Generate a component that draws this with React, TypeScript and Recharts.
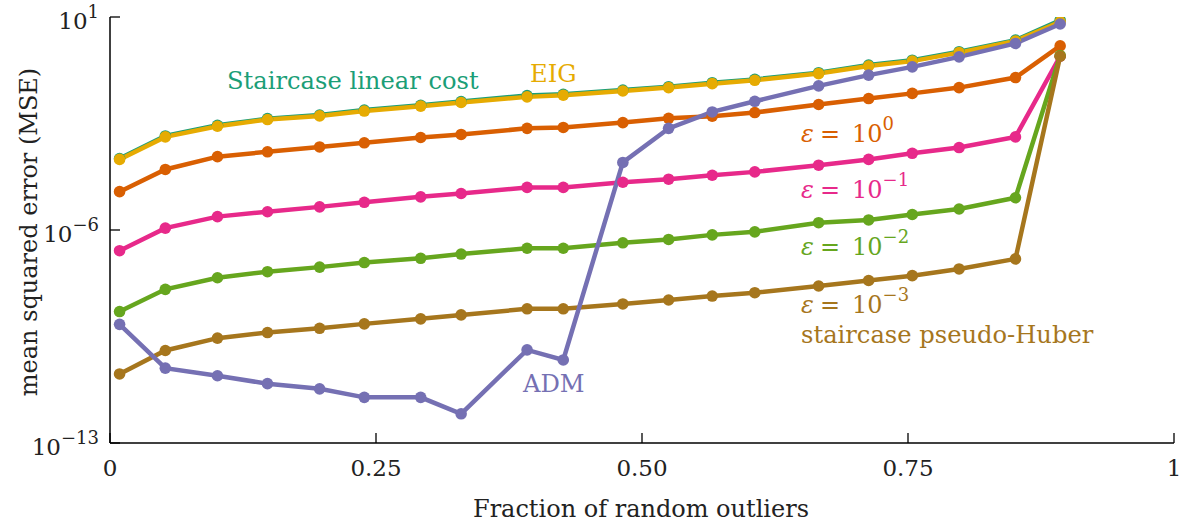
import { LineChart, Line, XAxis, YAxis } from 'recharts';

// fraction of random outliers (x)
const fraction = [0.009, 0.052, 0.101, 0.148, 0.197, 0.239, 0.292, 0.33, 0.392, 0.426, 0.482, 0.525, 0.566, 0.606, 0.666, 0.713, 0.754, 0.798, 0.851, 0.893];

// log10(MSE), one array per method
const staircaseLinearLog = [-3.65, -2.91, -2.56, -2.34, -2.22, -2.06, -1.9, -1.78, -1.58, -1.54, -1.4, -1.29, -1.16, -1.05, -0.83, -0.58, -0.42, -0.14, 0.24, 0.89];
const eigLog = [-3.68, -2.94, -2.59, -2.37, -2.25, -2.09, -1.93, -1.81, -1.625, -1.57, -1.43, -1.32, -1.19, -1.08, -0.86, -0.61, -0.45, -0.17, 0.21, 0.84];
const eps0Log = [-4.74, -4.01, -3.59, -3.43, -3.27, -3.135, -2.96, -2.86, -2.66, -2.63, -2.47, -2.33, -2.26, -2.14, -1.875, -1.68, -1.51, -1.32, -0.99, 0.05];
const eps1Log = [-6.68, -5.94, -5.56, -5.4, -5.24, -5.09, -4.91, -4.8, -4.6, -4.6, -4.43, -4.33, -4.2, -4.09, -3.87, -3.68, -3.48, -3.29, -2.94, -0.29];
const eps2Log = [-8.68, -7.95, -7.57, -7.37, -7.22, -7.07, -6.93, -6.79, -6.6, -6.6, -6.42, -6.31, -6.16, -6.06, -5.76, -5.67, -5.49, -5.31, -4.94, -0.27];
const eps3Log = [-10.73, -9.96, -9.555, -9.37, -9.23, -9.085, -8.92, -8.79, -8.59, -8.59, -8.43, -8.3, -8.17, -8.06, -7.84, -7.66, -7.5, -7.28, -6.95, -0.29];
const admLog = [-9.1, -10.54, -10.79, -11.05, -11.22, -11.5, -11.5, -12.04, -9.94, -10.27, -3.78, -2.66, -2.12, -1.77, -1.265, -0.91, -0.64, -0.31, 0.13, 0.77];

const xTicks = [0, 0.25, 0.5, 0.75, 1];
const xTickLabels = ['0', '0.25', '0.50', '0.75', '1'];
const yTicks = [1e-13, 1e-6, 10];
const yTickExponents = ['\u221213', '\u22126', '1'];

const series = [
  { key: 'linear', color: '#1b9e77', values: staircaseLinearLog },
  { key: 'eig', color: '#e6ab02', values: eigLog },
  { key: 'eps0', color: '#d95f02', values: eps0Log },
  { key: 'eps1', color: '#e7298a', values: eps1Log },
  { key: 'eps2', color: '#66a61e', values: eps2Log },
  { key: 'eps3', color: '#a6761d', values: eps3Log },
  { key: 'adm', color: '#7570b3', values: admLog },
];

const data = fraction.map((f, i) => {
  const row: Record<string, number> = { f };
  series.forEach((s) => {
    row[s.key] = Math.pow(10, s.values[i]);
  });
  return row;
});

const FONT = 'DejaVu Serif';
const INK = '#222';

const XTick = (props: any) => {
  const { x, y, payload } = props;
  const label = xTickLabels[xTicks.indexOf(payload.value)];
  return (
    <g>
      <line x1={x} x2={x} y1={y} y2={y - 10} stroke="#000" strokeWidth={1.3} />
      <text x={x} y={y + 33} textAnchor="middle" fontFamily={FONT} fontSize={23} fill={INK}>
        {label}
      </text>
    </g>
  );
};

const YTick = (props: any) => {
  const { x, y, payload } = props;
  const exp = yTickExponents[yTicks.indexOf(payload.value)];
  return (
    <g>
      <line x1={x} x2={x + 10} y1={y} y2={y} stroke="#000" strokeWidth={1.3} />
      <text x={x - 11} y={y + 12} textAnchor="end" fontFamily={FONT} fontSize={23} fill={INK}>
        <tspan>10</tspan>
        <tspan dy={-11} fontSize={18}>{exp}</tspan>
      </text>
    </g>
  );
};

const EpsLabel = ({ x, y, exp, color }: { x: number; y: number; exp: string; color: string }) => (
  <text x={x} y={y} fontFamily={FONT} fontSize={24} fill={color}>
    <tspan fontStyle="italic">ε</tspan>
    <tspan x={x + 19}>=</tspan>
    <tspan x={x + 51}>10</tspan>
    <tspan dy={-12} fontSize={18}>{exp}</tspan>
  </text>
);

export default function App() {
  return (
    <div style={{ position: 'relative', width: 1187, height: 522 }}>
      <style>{'body{margin:0}'}</style>
      <LineChart width={1187} height={522} data={data} margin={{ top: 17, right: 13, bottom: 0, left: 0 }}>
        <XAxis
          dataKey="f"
          type="number"
          domain={[0, 1]}
          ticks={xTicks}
          height={79}
          axisLine={{ stroke: '#000', strokeWidth: 1.5 }}
          tickLine={false}
          tickSize={0}
          tickMargin={0}
          tick={<XTick />}
          interval={0}
        />
        <YAxis
          type="number"
          scale="log"
          domain={[1e-13, 10]}
          allowDataOverflow
          ticks={yTicks}
          width={110}
          axisLine={{ stroke: '#000', strokeWidth: 1.5 }}
          tickLine={false}
          tickSize={0}
          tickMargin={0}
          tick={<YTick />}
          interval={0}
        />
        {series.map((s) => (
          <Line
            key={s.key}
            dataKey={s.key}
            type="linear"
            stroke={s.color}
            strokeWidth={4.5}
            dot={{ r: 5.8, fill: s.color, stroke: s.color, strokeWidth: 0 }}
            activeDot={false}
            isAnimationActive={false}
          />
        ))}
      </LineChart>
      <svg width={1187} height={522} style={{ position: 'absolute', left: 0, top: 0, pointerEvents: 'none' }}>
        <text x={227} y={89} fontFamily={FONT} fontSize={24.2} fill="#1b9e77">Staircase linear cost</text>
        <text x={530} y={82} fontFamily={FONT} fontSize={24.2} fill="#e6ab02">EIG</text>
        <EpsLabel x={801} y={142} exp="0" color="#d95f02" />
        <EpsLabel x={801} y={198} exp={'\u22121'} color="#e7298a" />
        <EpsLabel x={801} y={255} exp={'\u22122'} color="#66a61e" />
        <EpsLabel x={801} y={313} exp={'\u22123'} color="#a6761d" />
        <text x={801} y={343} fontFamily={FONT} fontSize={24.2} fill="#a6761d">staircase pseudo-Huber</text>
        <text x={523} y={392} fontFamily={FONT} fontSize={24.2} fill="#7570b3">ADM</text>
        <text x={641} y={517} textAnchor="middle" fontFamily={FONT} fontSize={24} fill={INK}>Fraction of random outliers</text>
        <text x={37} y={232} transform="rotate(-90 37 232)" textAnchor="middle" fontFamily={FONT} fontSize={24} fill={INK}>
          mean squared error (MSE)
        </text>
      </svg>
    </div>
  );
}
